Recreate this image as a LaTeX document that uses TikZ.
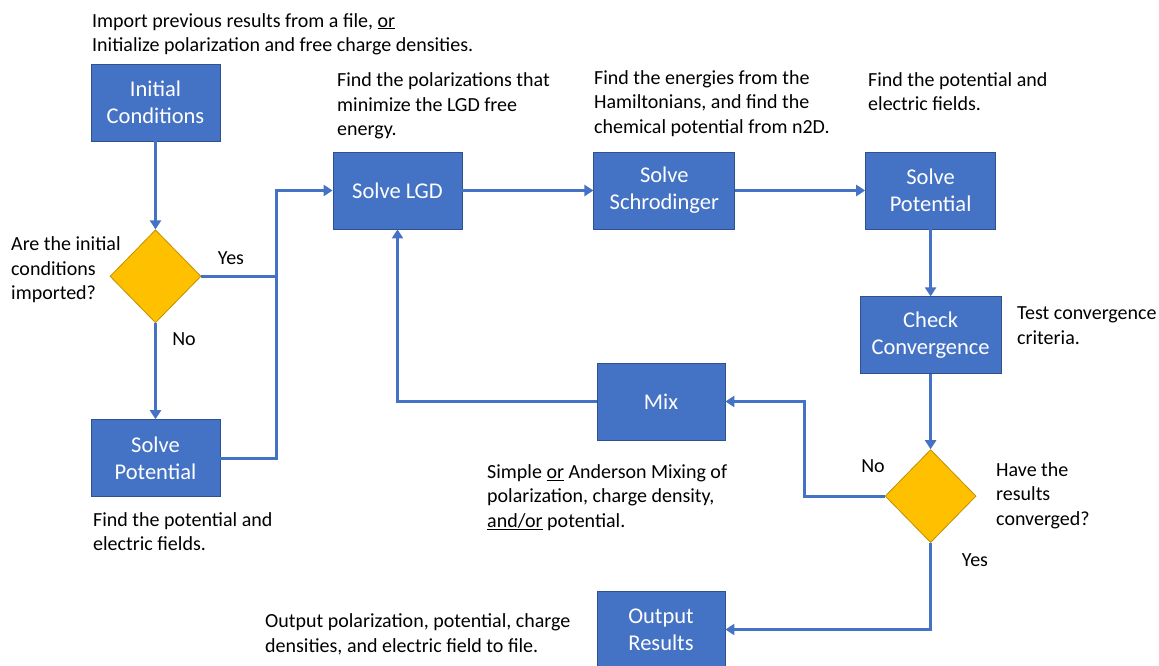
\documentclass[tikz,border=0pt]{standalone}
\usepackage{fontspec}
\setmainfont{Carlito}
\usetikzlibrary{positioning,shapes.geometric,arrows.meta}
\definecolor{boxblue}{HTML}{4472C4}
\definecolor{boxedge}{HTML}{2F528F}
\definecolor{decgold}{HTML}{FFC000}
\definecolor{decedge}{HTML}{BF9000}

\begin{document}
\begin{tikzpicture}[x=1pt,y=-1pt,box/.style={rectangle,fill=boxblue,draw=boxedge,line width=0.8pt,text=white,font=\fontsize{22.5}{27}\selectfont,align=center,minimum width=129pt,minimum height=77pt,inner sep=0pt},dec/.style={diamond,fill=decgold,draw=decedge,line width=0.8pt,minimum width=91pt,minimum height=93pt,inner sep=0pt},note/.style={font=\fontsize{20}{24.4}\selectfont,align=left,inner sep=0pt,anchor=west},lbl/.style={font=\fontsize{20}{24.4}\selectfont,inner sep=0pt},flow/.style={draw=boxblue,line width=3pt,-{Triangle[length=9pt,width=11pt]}},line/.style={draw=boxblue,line width=3pt}]
		\useasboundingbox (0,0) rectangle (1159,666);

		\node[box]												(init)	at (155.5,102.5)	{Initial\\Conditions};
		\node[dec,node distance=88pt,below=of init]				(q1)	{};
		\node[box,node distance=96pt,below=of q1]				(potl)	{Solve\\Potential};
		\node[box]												(lgd)	at (397.5,190.5)	{Solve LGD};
		\node[box,minimum width=141pt,node distance=131pt,right=of lgd]	(schro)	{Solve\\Schrodinger};
		\node[box,minimum width=130pt,node distance=130pt,right=of schro]	(potr)	{Solve\\Potential};
		\node[box,minimum width=141pt,node distance=67pt,below=of potr]	(check)	{Check\\Convergence};
		\node[dec,node distance=75pt,below=of check]			(q2)	{};
		\node[box,minimum width=128pt]							(mix)	at (661,401.5)	{Mix};
		\node[box,minimum width=128pt]							(out)	at (661,629.5)	{Output\\Results};

		\coordinate (jn)	at (276,456.5);
		\coordinate (back)	at (804,401.5);

		\draw[flow] (init) -- (q1);
		\draw[flow] (q1) -- (potl);
		\draw[line] (q1.east) -- (q1.east -| jn);
		\draw[flow] (potl.east) -- (potl.east -| jn) |- (lgd.west);
		\draw[flow] (lgd) -- (schro);
		\draw[flow] (schro) -- (potr);
		\draw[flow] (potr) -- (check);
		\draw[flow] (check) -- (q2);
		\draw[flow] (q2.west) -| (back) -- (mix.east);
		\draw[flow] (mix.west) -| (lgd.south);
		\draw[flow] (q2.south) |- (out.east);

		\node[lbl]	(yes1)	at (231,258)	{Yes};
		\node[lbl]	(no1)	at (184,339)	{No};
		\node[lbl]	(no2)	at (873,466)	{No};
		\node[lbl]	(yes2)	at (975,560)	{Yes};

		\node[note]	(n1)	at (92,34)		{Import previous results from a file, \underline{or}\\Initialize polarization and free charge densities.};
		\node[note]	(n2)	at (11,270)		{Are the initial\\conditions\\imported?};
		\node[note]	(n3)	at (337,106)	{Find the polarizations that\\minimize the LGD free\\energy.};
		\node[note]	(n4)	at (594,103.5)	{Find the energies from the\\Hamiltonians, and find the\\chemical potential from n2D.};
		\node[note]	(n5)	at (868,91.5)	{Find the potential and\\electric fields.};
		\node[note]	(n6)	at (1017,325.5)	{Test convergence\\criteria.};
		\node[note]	(n7)	at (996,495.5)	{Have the\\results\\converged?};
		\node[note]	(n8)	at (487,497.5)	{Simple \underline{or} Anderson Mixing of\\polarization, charge density,\\\underline{and/or} potential.};
		\node[note]	(n9)	at (93,531.5)	{Find the potential and\\electric fields.};
		\node[note]	(n10)	at (265,634.5)	{Output polarization, potential, charge\\densities, and electric field to file.};
	\end{tikzpicture}
\end{document}
